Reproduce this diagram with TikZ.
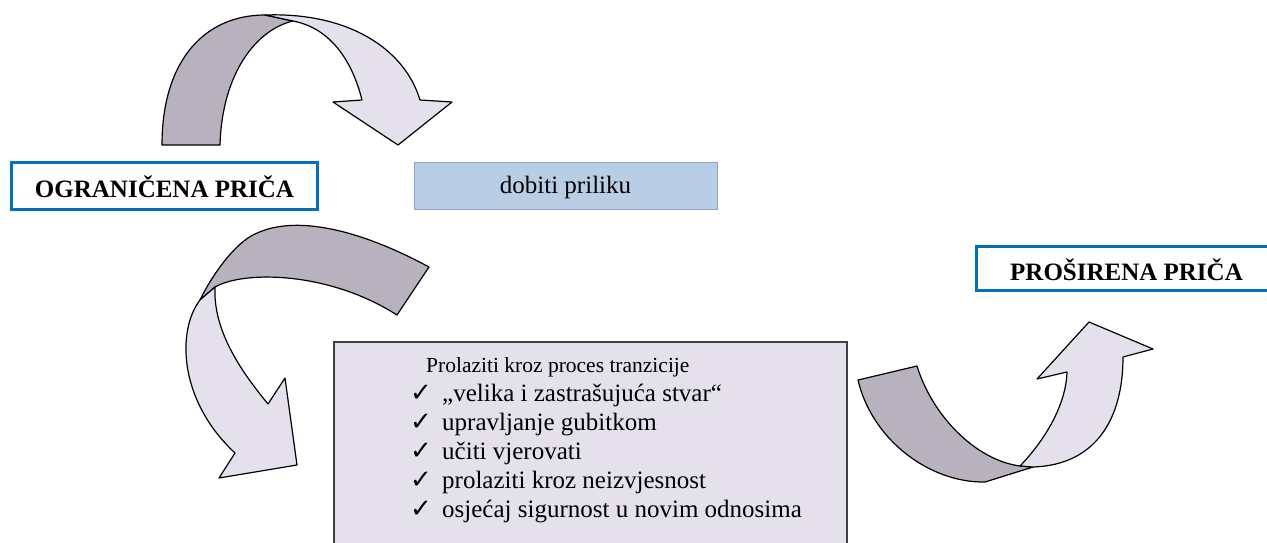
\documentclass[tikz,border=0pt]{standalone}
\usepackage{fontspec}
\setmainfont{Liberation Serif}
\newfontfamily\checkfont{DejaVu Sans}
\definecolor{arrdark}{HTML}{B8B2BE}
\definecolor{arrlight}{HTML}{E4E0EC}
\definecolor{hblue}{HTML}{0070C0}
\definecolor{oppfill}{HTML}{B9CDE5}
\definecolor{oppdraw}{HTML}{7FA7DA}
\definecolor{procdraw}{HTML}{404040}
\begin{document}
\begin{tikzpicture}[x=1pt,y=-1pt,
  back/.style={fill=arrdark,draw=black,line width=1.2pt,line join=round},
  front/.style={fill=arrlight,draw=black,line width=1.2pt,line join=round},
  headbox/.style={draw=hblue,line width=3pt,fill=white,inner sep=0pt,
    font=\fontsize{25}{30}\selectfont\bfseries,text height=24pt,text depth=2pt},
  oppbox/.style={draw=oppdraw,line width=1pt,fill=oppfill,inner sep=0pt,
    font=\fontsize{25}{30}\selectfont,text height=20pt,text depth=5pt},
  procbox/.style={draw=procdraw,line width=1.2pt,fill=arrlight,inner sep=0pt},
  itemtext/.style={inner sep=0pt,anchor=base west,font=\fontsize{25}{30}\selectfont},
  titletext/.style={inner sep=0pt,anchor=base west,font=\fontsize{21.5}{27}\selectfont},
  checkmk/.style={inner sep=0pt,anchor=base west,font=\checkfont\fontsize{26}{30}\selectfont}
]
\clip (0,0) rectangle (1267,542);

% top arrow
\draw[back] (162,145) .. controls (162,60) and (205,15) .. (265,15) -- (293,21)
  .. controls (255,30) and (222,75) .. (220,145) -- cycle;
\draw[front] (265,15) .. controls (350,12) and (405,50) .. (420,100) -- (452,102)
  -- (398,145) -- (333,102) -- (362,100) .. controls (352,60) and (330,28) .. (293,21) -- cycle;

% boxes
\node[headbox,minimum width=306pt,minimum height=47pt] (limited) at (164.5,186) {OGRANIČENA PRIČA};
\node[oppbox,minimum width=303pt,minimum height=47pt] (chance) at (565.5,185.5) {dobiti priliku};
\node[headbox,minimum width=300pt,minimum height=44pt,text height=25pt] (expanded) at (1126.5,268.5) {PROŠIRENA PRIČA};

% second arrow
\draw[back] (429,267) .. controls (370,235) and (300,212) .. (255,234)
  .. controls (235,243) and (212,275) .. (200,300) -- (215,287)
  .. controls (245,270) and (330,272) .. (397,315) -- cycle;
\draw[front] (200,300) .. controls (177,330) and (178,400) .. (235,453) -- (219,478)
  -- (297,465) -- (285,378) -- (268,404) .. controls (240,370) and (213,330) .. (215,287) -- cycle;

% process box
\node[procbox,minimum width=513pt,minimum height=220pt] (process) at (590.5,452) {};
\node[titletext] (t0) at (426,372) {Prolaziti kroz proces tranzicije};
\node[checkmk] (c1) at (410,401.8) {✓};
\node[itemtext] (t1) at (442,401.8) {„velika i zastrašujuća stvar“};
\node[checkmk] (c2) at (410,430.6) {✓};
\node[itemtext] (t2) at (442,430.6) {upravljanje gubitkom};
\node[checkmk] (c3) at (410,459.4) {✓};
\node[itemtext] (t3) at (442,459.4) {učiti vjerovati};
\node[checkmk] (c4) at (410,488.2) {✓};
\node[itemtext] (t4) at (442,488.2) {prolaziti kroz neizvjesnost};
\node[checkmk] (c5) at (410,517) {✓};
\node[itemtext] (t5) at (442,517) {osjećaj sigurnost u novim odnosima};

% third arrow
\draw[back] (858,380) -- (917,366) .. controls (932,415) and (975,460) .. (1020,466)
  -- (1033,467) -- (985,482) .. controls (930,483) and (872,440) .. (858,380) -- cycle;
\draw[front] (1020,466) .. controls (1045,440) and (1066,405) .. (1067,372) -- (1037,379)
  -- (1089,322) -- (1153,349) -- (1123,357) .. controls (1123,420) and (1095,465) .. (1033,467) -- cycle;
\end{tikzpicture}
\end{document}
